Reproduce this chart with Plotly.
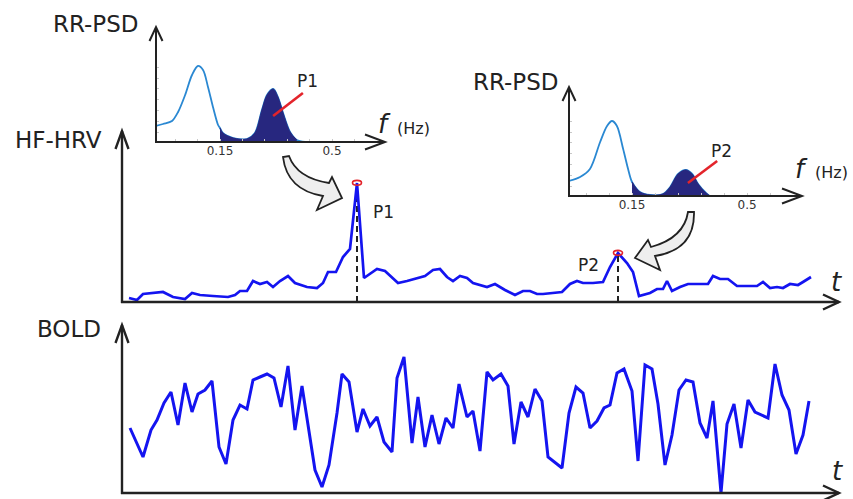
import numpy as np
import plotly.graph_objects as go

# ---------------- data ----------------
hf_time = [7, 15, 21, 31, 41, 51, 63, 70, 78, 91, 100, 106, 113, 118, 125, 131, 138, 145, 151, 158,
           166, 173, 185, 195, 201, 206, 214, 221, 228, 235, 242, 255, 263, 276, 285, 295, 303, 311,
           318, 325, 331, 338, 345, 351, 358, 365, 373, 383, 393, 401, 408, 415, 421, 430, 440, 448,
           455, 461, 471, 481, 488, 496, 505, 511, 517, 528, 535, 541, 545, 550, 558, 566, 576, 586,
           591, 598, 606, 615, 625, 635, 641, 648, 655, 661, 668, 676, 681, 689]
hf_power = [4, 2, 8, 9, 10, 5, 3, 9, 7, 6, 5, 5, 7, 11, 11, 21, 18, 20, 15, 21,
            26, 19, 15, 14, 19, 30, 30, 45, 53, 119, 24, 33, 31, 19, 21, 24, 26, 32,
            33, 25, 21, 26, 24, 19, 17, 15, 18, 12, 7, 11, 11, 8, 8, 9, 10, 18,
            21, 19, 19, 20, 35, 49, 39, 30, 6, 9, 13, 13, 21, 11, 15, 18, 18, 18,
            26, 23, 23, 16, 16, 16, 20, 14, 15, 14, 18, 17, 20, 25]

bold_time = [8, 21, 29, 35, 42, 49, 56, 63, 70, 76, 83, 90, 97, 104, 111, 118, 125, 131, 138, 145,
             152, 159, 166, 173, 180, 193, 200, 207, 215, 220, 227, 235, 241, 248, 255, 262, 270, 275,
             282, 290, 296, 303, 310, 317, 324, 331, 337, 345, 351, 358, 365, 371, 379, 386, 392, 399,
             406, 413, 420, 426, 440, 447, 454, 461, 468, 475, 482, 488, 495, 502, 510, 516, 523, 530,
             536, 543, 550, 557, 564, 571, 578, 585, 591, 599, 605, 612, 619, 626, 633, 646, 653, 660,
             667, 674, 681, 687]
bold_signal = [65, 36, 63, 73, 90, 101, 68, 110, 81, 99, 103, 112, 46, 29, 73, 88, 84, 113, 116, 119,
               115, 86, 127, 63, 107, 23, 6, 28, 80, 119, 111, 61, 84, 67, 76, 51, 41, 115,
               136, 50, 96, 46, 78, 49, 75, 65, 109, 76, 82, 42, 121, 113, 119, 107, 49, 91,
               76, 104, 92, 36, 25, 80, 106, 100, 65, 72, 85, 88, 120, 124, 102, 32, 128, 124,
               89, 28, 58, 103, 113, 111, 70, 55, 92, 0, 69, 89, 45, 93, 81, 75, 129, 98,
               83, 39, 58, 92]

psd1_freq = [-0.05, -0.028, 0.0, 0.019, 0.041, 0.0625, 0.081, 0.097, 0.1125, 0.128, 0.144, 0.15,
             0.159, 0.191, 0.234, 0.259, 0.281, 0.297, 0.316, 0.331, 0.347, 0.369, 0.39, 0.422, 0.665]
psd1_power = [16, 18, 21, 30, 47, 67, 76, 72, 55, 35, 17, 14,
              9, 4, 3, 9, 32, 47, 53, 45, 29, 10, 2, 0, 0]

psd2_freq = [-0.042, -0.008, 0.022, 0.053, 0.074, 0.089, 0.104, 0.123, 0.138, 0.15, 0.174, 0.205,
             0.244, 0.266, 0.29, 0.314, 0.333, 0.351, 0.372, 0.387, 0.665]
psd2_power = [15, 19, 27, 54, 70, 75, 70, 47, 27, 14, 4, 1,
              2, 9, 22, 26, 22, 12, 4, 0, 0]

hf_band = [0.15, 0.39]
freq_ticks = [0.15, 0.5]
freq_minor = [0.01, 0.08, 0.22, 0.29, 0.36, 0.43, 0.57]
psd_minor_y = [10, 21, 32, 43, 54, 64, 75]

peak1_time, peak1_value = 235, 119
peak2_time, peak2_value = 496, 49

# ---------------- geometry (pixels) ----------------
W, H = 853, 499
def X(px): return px / W
def Y(py): return 1 - py / H

geo = {
    "hf":   dict(l=122, r=839, b=302, t=131, xr=[0, 717], yr=[0, 171]),
    "bold": dict(l=122, r=839, b=493, t=325, xr=[0, 717], yr=[0, 168]),
    "psd1": dict(l=156, r=385, b=142, t=27, xr=[-0.05, 0.6656], yr=[0, 115]),
    "psd2": dict(l=569, r=802, b=196, t=87, xr=[-0.0417, 0.667], yr=[0, 109]),
}

AX = "#222222"
BLUE = "#1414f0"
LBLUE = "#2a88d2"
NAVY = "#27277f"
RED = "#e3242b"
FONT = "DejaVu Sans"

fig = go.Figure()

# traces
fig.add_trace(go.Scatter(x=hf_time, y=hf_power, mode="lines", line=dict(color=BLUE, width=2.7),
                         xaxis="x", yaxis="y", hoverinfo="skip"))
fig.add_trace(go.Scatter(x=bold_time, y=bold_signal, mode="lines", line=dict(color=BLUE, width=3),
                         xaxis="x2", yaxis="y2", hoverinfo="skip"))

for f, p, xa, ya in [(psd1_freq, psd1_power, "x3", "y3"), (psd2_freq, psd2_power, "x4", "y4")]:
    f = np.array(f); p = np.array(p)
    fig.add_trace(go.Scatter(x=f, y=p, mode="lines", line=dict(color=LBLUE, width=1.8, shape="spline", smoothing=0.9),
                             xaxis=xa, yaxis=ya, hoverinfo="skip"))
    m = (f >= hf_band[0]) & (f <= hf_band[1])
    fig.add_trace(go.Scatter(x=f[m], y=p[m], mode="lines", fill="tozeroy", fillcolor=NAVY,
                             line=dict(color=NAVY, width=1, shape="spline", smoothing=0.9),
                             xaxis=xa, yaxis=ya, hoverinfo="skip"))

# axes layout
def dom(g):
    return [X(g["l"]), X(g["r"])], [Y(g["b"]), Y(g["t"])]

names = [("xaxis", "yaxis", "hf", "y", "x"), ("xaxis2", "yaxis2", "bold", "y2", "x2"),
         ("xaxis3", "yaxis3", "psd1", "y3", "x3"), ("xaxis4", "yaxis4", "psd2", "y4", "x4")]
layout_axes = {}
for xn, yn, key, yanch, xanch in names:
    g = geo[key]
    dx, dy = dom(g)
    xa = dict(domain=dx, range=g["xr"], showgrid=False, zeroline=False, showline=False,
              showticklabels=False, ticks="", fixedrange=True, anchor=yanch)
    ya = dict(domain=dy, range=g["yr"], showgrid=False, zeroline=False, showline=False,
              showticklabels=False, ticks="", fixedrange=True, anchor=xanch)
    if key.startswith("psd"):
        tv = freq_minor + freq_ticks
        tt = [""] * len(freq_minor) + [str(v) for v in freq_ticks]
        xa.update(showticklabels=True, tickvals=tv, ticktext=tt, ticks="inside", ticklen=3,
                  tickcolor="#c8c8c8", tickwidth=1, tickfont=dict(family=FONT, size=12, color="#333"))
        ya.update(tickvals=psd_minor_y, ticks="inside", ticklen=3, tickcolor="#c8c8c8", tickwidth=1)
    layout_axes[xn] = xa
    layout_axes[yn] = ya

shapes = []
def line_px(x0, y0, x1, y1, w=2.2, color=AX):
    shapes.append(dict(type="line", xref="paper", yref="paper", x0=X(x0), y0=Y(y0), x1=X(x1), y1=Y(y1),
                       line=dict(color=color, width=w)))

def path_px(cmds, fill=None, w=2.2, color=AX):
    parts = []
    for c in cmds:
        if isinstance(c, str):
            parts.append(c)
        else:
            parts.append(f"{X(c[0]):.5f},{Y(c[1]):.5f}")
    d = dict(type="path", xref="paper", yref="paper", path=" ".join(parts), line=dict(color=color, width=w))
    if fill:
        d["fillcolor"] = fill
    shapes.append(d)

def axes_arrows(g, w, vlen, vhalf, hlen, hhalf):
    l, r, b, t = g["l"], g["r"], g["b"], g["t"]
    line_px(l, b + 1, l, t, w)
    line_px(l - 1, b, r, b, w)
    path_px(["M", (l - vhalf, t + vlen), "L", (l, t), "L", (l + vhalf, t + vlen)], w=w)
    path_px(["M", (r - hlen, b - hhalf), "L", (r, b), "L", (r - hlen, b + hhalf)], w=w)

axes_arrows(geo["hf"], 2.4, 18, 6.5, 16, 7.5)
axes_arrows(geo["bold"], 2.4, 18, 6.5, 16, 7.5)
axes_arrows(geo["psd1"], 2.0, 14, 6.5, 20, 7.5)
axes_arrows(geo["psd2"], 2.0, 14, 6.5, 20, 7.5)

# dashed peak markers
for tp, vp in [(peak1_time, peak1_value), (peak2_time, peak2_value)]:
    shapes.append(dict(type="line", xref="x", yref="y", x0=tp, x1=tp, y0=0, y1=vp, layer="below",
                       line=dict(color=AX, width=2, dash="6px,4px")))
    shapes.append(dict(type="circle", xref="x", yref="y", xsizemode="pixel", ysizemode="pixel",
                       xanchor=tp, yanchor=vp, x0=-4.5, x1=4.5, y0=-2.2, y1=2.6,
                       line=dict(color=RED, width=1.6)))

# red pointer lines in PSD insets
shapes.append(dict(type="line", xref="x3", yref="y3", x0=0.316, y0=26, x1=0.409, y1=49,
                   line=dict(color=RED, width=2.6)))
shapes.append(dict(type="line", xref="x4", yref="y4", x0=0.32, y0=13, x1=0.409, y1=35,
                   line=dict(color=RED, width=2.6)))

# curved block arrows
path_px(["M", (283, 157), "Q", (287, 190), (323, 196), "L", (317, 210), "L", (342, 198),
         "L", (332, 177), "L", (329, 183), "Q", (297, 178), (289, 156), "Z"], fill="#eeeeee", w=1.8)
path_px(["M", (694, 212), "Q", (695, 250), (655, 256), "L", (660, 270), "L", (635, 258),
         "L", (648, 240), "L", (651, 247), "Q", (684, 238), (688, 212), "Z"], fill="#eeeeee", w=1.8)

annotations = []
def text_px(x, y, s, size, xanchor="center", color="#222"):
    annotations.append(dict(xref="paper", yref="paper", x=X(x), y=Y(y), text=s, showarrow=False,
                            xanchor=xanchor, yanchor="middle", font=dict(family=FONT, size=size, color=color)))

text_px(141, 24, "RR-PSD", 23, "right")
text_px(561, 82, "RR-PSD", 23, "right")
text_px(104, 140, "HF-HRV", 23, "right")
text_px(103, 329, "BOLD", 23, "right")
text_px(307, 81, "P1", 17)
text_px(721, 151, "P2", 17)
text_px(383, 212, "P1", 17)
text_px(588, 265, "P2", 17)
text_px(384, 124, "<i>f</i>", 26)
text_px(395, 128, "(Hz)", 16, "left")
text_px(801, 169, "<i>f</i>", 26)
text_px(813, 172, "(Hz)", 16, "left")
text_px(836, 282, "<i>t</i>", 26)
text_px(837, 471, "<i>t</i>", 26)

fig.update_layout(width=W, height=H, margin=dict(l=0, r=0, t=0, b=0),
                  paper_bgcolor="white", plot_bgcolor="white", showlegend=False,
                  shapes=shapes, annotations=annotations, **layout_axes)

fig.write_html("out.html", config={"displayModeBar": False},
               post_script="document.body.style.margin='0';document.body.style.overflow='hidden';")
